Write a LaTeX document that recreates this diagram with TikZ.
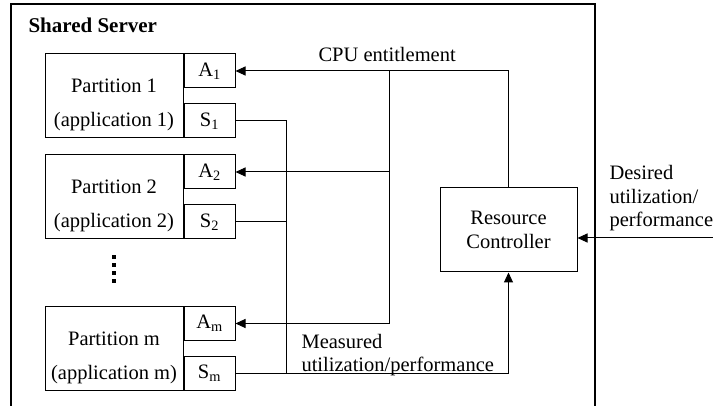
\documentclass[tikz,border=0pt]{standalone}
\usepackage{fontspec}
\setmainfont{Liberation Serif}
\usetikzlibrary{arrows.meta, positioning}

\begin{document}
\begin{tikzpicture}[x=1pt, y=-1pt,
    font=\fontsize{20.5}{23.5}\selectfont,
    part/.style={draw, line width=1pt, minimum width=138pt, minimum height=84pt,
                 inner sep=0pt, align=center, text height=66pt, text depth=4pt,
                 font=\fontsize{20.5}{34}\selectfont},
    port/.style={draw, line width=1pt, minimum width=51pt, minimum height=34pt, inner sep=0pt},
    ctrl/.style={draw, line width=1pt, minimum width=137pt, minimum height=84pt, align=center,
                 font=\fontsize{20.5}{24}\selectfont},
    wire/.style={line width=1pt},
    arr/.style={wire, -{Triangle[length=10pt, width=9pt]}},
    frame/.style={line width=2.4pt},
    vdots/.style={line width=3.5pt, dash pattern=on 3.5pt off 4.5pt}]
  \useasboundingbox (0,0) rectangle (713,406);

  % server frame, open at the bottom
  \draw[frame] (11,406) |- (595,4) -- (595,406);
  \node[anchor=base west, font=\fontsize{21}{24}\selectfont\bfseries] (srv) at (25,33) {Shared Server};

  % partitions with their actuator / sensor ports
  \node[part] (p1) at (114,96) {Partition 1\\(application 1)};
  \node[port, anchor=north west] (a1) at (p1.north east) {A\textsubscript{1}};
  \node[port, anchor=south west] (s1) at (p1.south east) {S\textsubscript{1}};

  \node[part] (p2) at (114,197) {Partition 2\\(application 2)};
  \node[port, anchor=north west] (a2) at (p2.north east) {A\textsubscript{2}};
  \node[port, anchor=south west] (s2) at (p2.south east) {S\textsubscript{2}};

  \node[part] (pm) at (114,348.5) {Partition m\\(application m)};
  \node[port, anchor=north west] (am) at (pm.north east) {A\textsubscript{m}};
  \node[port, anchor=south west] (sm) at (pm.south east) {S\textsubscript{m}};

  \draw[vdots] ([yshift=-16pt]p2.south) -- ([yshift=21pt]pm.north);

  \node[ctrl] (ctrl) at (508.5,230) {Resource\\Controller};

  % entitlement fan-out
  \coordinate (cpu) at (389,71);
  \draw[arr] (ctrl.north) |- (a1.east);
  \draw[arr] (cpu) |- (am.east);
  \draw[arr] (cpu |- a2.east) -- (a2.east);
  \node[anchor=base west] (cpulbl) at (315,62) {CPU entitlement};

  % measurements back to the controller (label sits on its last line)
  \coordinate (meas) at (286,373.5);
  \draw[wire] (s1.east) -| (meas);
  \draw[wire] (s2.east) -- (s2.east -| meas);
  \draw[arr] (sm.east) -| (ctrl.south);
  \node[anchor=base west, align=left] (measlbl) at (298,371.5) {Measured\\utilization/performance};

  % set point from outside
  \coordinate (din) at (713,238);
  \draw[arr] (din) -- (ctrl.east |- din);
  \node[anchor=base west, align=left] (dlbl) at (606,227) {Desired\\utilization/\\performance};
\end{tikzpicture}
\end{document}
